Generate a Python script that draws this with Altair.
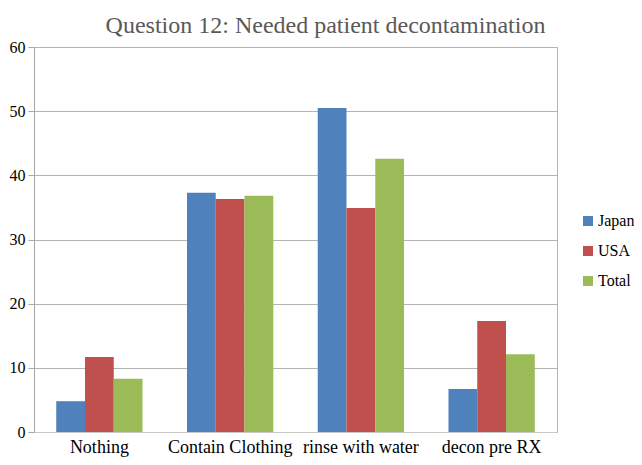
import altair as alt
import pandas as pd

categories = ["Nothing", "Contain Clothing", "rinse with water", "decon pre RX"]
series = ["Japan", "USA", "Total"]
japan = [4.8, 37.3, 50.5, 6.7]
usa = [11.7, 36.3, 34.9, 17.3]
total = [8.3, 36.8, 42.6, 12.1]
colors = ["#4F81BD", "#C0504D", "#9BBB59"]

rows = []
for s, vals in zip(series, [japan, usa, total]):
    for c, v in zip(categories, vals):
        rows.append({"category": c, "series": s, "value": v})
df = pd.DataFrame(rows)

FONT = "Liberation Serif"

chart = alt.Chart(df).mark_bar().encode(
    x=alt.X("category:N", sort=categories, title=None,
            scale=alt.Scale(paddingInner=0.34, paddingOuter=0.17),
            axis=alt.Axis(labelAngle=0, ticks=False, domainColor="#c8c8c8",
                          labelFont=FONT, labelFontSize=18, labelColor="#000",
                          labelPadding=6)),
    xOffset=alt.XOffset("series:N", sort=series),
    y=alt.Y("value:Q", title=None,
            scale=alt.Scale(domain=[0, 60]),
            axis=alt.Axis(values=[0, 10, 20, 30, 40, 50, 60], grid=True,
                          gridColor="#b4b4b4", domainColor="#a8a8a8",
                          tickColor="#a8a8a8", tickSize=6,
                          labelFont=FONT, labelFontSize=16, labelColor="#000",
                          labelPadding=3)),
    color=alt.Color("series:N", sort=series,
                    scale=alt.Scale(domain=series, range=colors),
                    legend=alt.Legend(title=None, orient="none", legendX=546, legendY=166,
                                      symbolType="square", symbolSize=100,
                                      symbolStrokeWidth=0,
                                      labelFont=FONT, labelFontSize=16,
                                      labelColor="#000", rowPadding=14,
                                      labelOffset=2)),
).properties(
    width=523, height=385,
    title=alt.TitleParams("Question 12: Needed patient decontamination",
                          font=FONT, fontSize=24, fontWeight="normal",
                          color="#595959", anchor="middle", dx=30, offset=1),
    autosize=alt.AutoSizeParams(type="none"),
    padding={"left": 26, "top": 39, "right": 77, "bottom": 25},
).configure_view(stroke="#b4b4b4")

chart.save("out.html", embed_options={"renderer": "svg", "actions": False})
